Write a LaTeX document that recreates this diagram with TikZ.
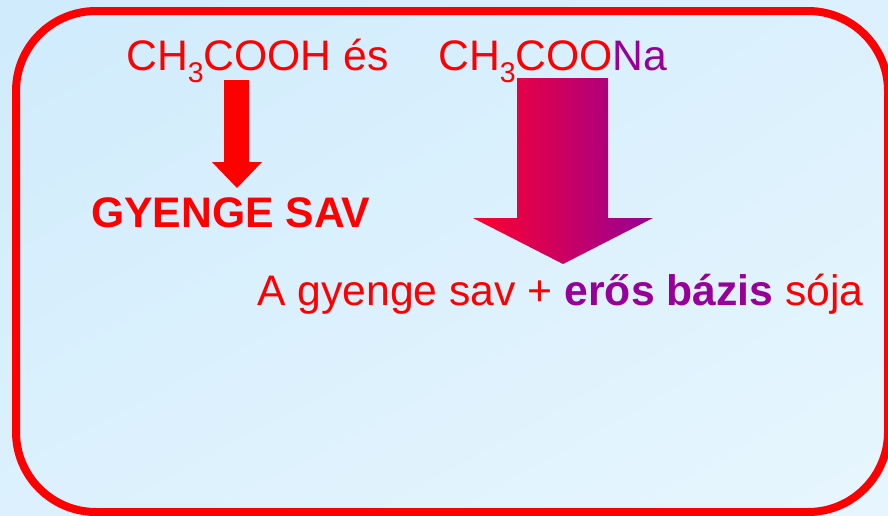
\documentclass[tikz,border=0pt]{standalone}
\usepackage{fontspec}
\setmainfont{Liberation Sans}
\usetikzlibrary{shadings}
\definecolor{bgA}{RGB}{207,235,252}
\definecolor{bgB}{RGB}{220,241,253}
\definecolor{bgC}{RGB}{231,246,254}
\definecolor{mypurple}{RGB}{153,0,153}
\definecolor{arrowL}{RGB}{255,0,45}
\definecolor{arrowR}{RGB}{150,0,150}
\newcommand{\mysub}[1]{\raisebox{-12pt}{\fontsize{28.5}{30}\selectfont #1}}
\tikzset{
  txt/.style={anchor=base west, inner sep=0pt, font=\fontsize{42.7}{50}\selectfont, text=red},
  frame/.style={draw=red, line width=8pt, rounded corners=80pt},
}
\begin{document}
\begin{tikzpicture}[x=1pt,y=-1pt]
\useasboundingbox (0,0) rectangle (888,515);
\shade[upper left=bgA, upper right=bgB, lower left=bgB, lower right=bgC] (0,0) rectangle (888,515);
\draw[frame] (16,11) rectangle (888,512);
\node[txt] (acid) at (126,70) {CH\mysub{3}COOH és};
\node[txt] (salt) at (438,70) {CH\mysub{3}COO\textcolor{mypurple}{Na}};
\node[txt, font=\fontsize{42.7}{50}\selectfont\bfseries] (weak) at (91,227) {GYENGE SAV};
\node[txt] (desc) at (257,305) {A gyenge sav + \textcolor{mypurple}{\bfseries erős bázis} sója};
\fill[red] (224,80) -- (249,80) -- (249,162) -- (262,162) -- (237,188) -- (212,162) -- (224,162) -- cycle;
\shade[left color=arrowL, right color=arrowR] (517,78) -- (608,78) -- (608,218) -- (653,218) -- (563,264) -- (473,218) -- (517,218) -- cycle;
\end{tikzpicture}
\end{document}
